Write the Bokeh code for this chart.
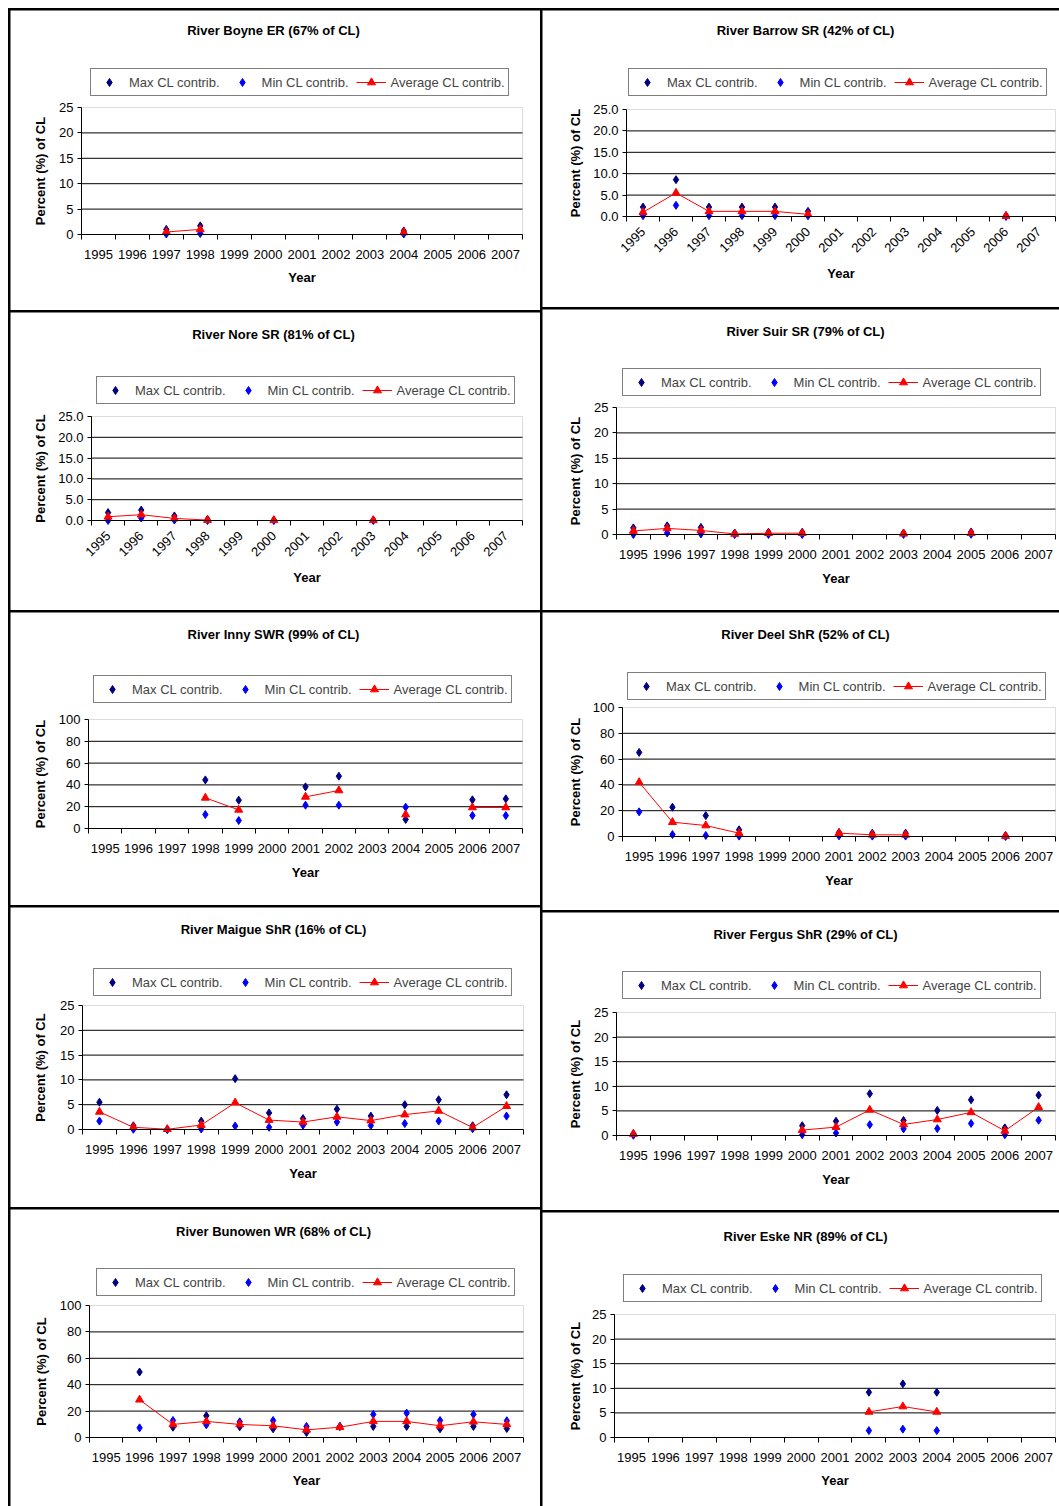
import math
import numpy as np
from bokeh.plotting import figure
from bokeh.layouts import row, column
from bokeh.models import (Range1d, FixedTicker, NumeralTickFormatter, Legend,
                          LegendItem, Label, ColumnDataSource, BoxAnnotation,
                          LinearAxis)
from bokeh.embed import file_html
from bokeh.resources import INLINE

years = list(range(1995, 2008))
year_labels = {y: str(y) for y in years}
N = None

boyne_max = [N, N, 1.0, 1.7, N, N, N, N, N, 0.7, N, N, N]
boyne_min = [N, N, 0.1, 0.2, N, N, N, N, N, 0.1, N, N, N]
boyne_avg = [N, N, 0.5, 1.0, N, N, N, N, N, 0.4, N, N, N]

barrow_max = [2.2, 8.6, 2.2, 2.2, 2.2, 1.2, N, N, N, N, N, 0.2, N]
barrow_min = [0.2, 2.6, 0.2, 0.2, 0.2, 0.15, N, N, N, N, N, 0.0, N]
barrow_avg = [1.0, 5.5, 1.2, 1.2, 1.2, 0.5, N, N, N, N, N, 0.1, N]

nore_max = [1.9, 2.5, 1.1, 0.3, N, 0.1, N, N, 0.1, N, N, N, N]
nore_min = [0.0, 0.6, 0.1, 0.0, N, 0.0, N, N, 0.0, N, N, N, N]
nore_avg = [0.9, 1.4, 0.5, 0.1, N, 0.05, N, N, 0.05, N, N, N, N]

suir_max = [1.3, 1.7, 1.4, 0.3, 0.45, 0.45, N, N, 0.3, N, 0.5, N, N]
suir_min = [0.0, 0.3, 0.1, 0.0, 0.0, 0.0, N, N, 0.0, N, 0.05, N, N]
suir_avg = [0.7, 1.2, 0.8, 0.1, 0.25, 0.25, N, N, 0.15, N, 0.25, N, N]

inny_max = [N, N, N, 44.6, 26.0, N, 38.2, 48.0, N, 8.3, N, 26.3, 27.2]
inny_min = [N, N, N, 12.8, 7.3, N, 21.4, 21.4, N, 19.6, N, 11.9, 11.9]
inny_avg = [N, N, N, 28.1, 17.1, N, 29.0, 34.9, N, 12.8, N, 19.3, 19.3]

deel_max = [65.2, 22.7, 16.2, 5.2, N, N, 3.1, 2.6, 2.6, N, N, 0.8, N]
deel_min = [19.1, 1.5, 0.8, 0.3, N, N, 0.5, 0.3, 0.3, N, N, 0.0, N]
deel_avg = [42.0, 11.1, 8.5, 2.6, N, N, 2.6, 1.3, 1.3, N, N, 0.3, N]

maigue_max = [5.5, 0.75, 0.05, 1.7, 10.25, 3.35, 2.2, 4.1, 2.7, 5.0, 6.0, 0.75, 7.0]
maigue_min = [1.7, 0.05, 0.0, 0.1, 0.7, 0.45, 0.85, 1.5, 0.8, 1.2, 1.7, 0.15, 2.7]
maigue_avg = [3.55, 0.45, 0.05, 0.9, 5.4, 1.9, 1.5, 2.55, 1.8, 3.0, 3.75, 0.4, 4.7]

fergus_max = [0.35, N, N, N, N, 2.0, 2.9, 8.5, 3.05, 5.1, 7.25, 1.55, 8.2]
fergus_min = [0.05, N, N, N, N, 0.15, 0.5, 2.2, 1.35, 1.4, 2.45, 0.15, 3.1]
fergus_avg = [0.3, N, N, N, N, 1.1, 1.7, 5.2, 2.25, 3.25, 4.7, 0.95, 5.75]

bunowen_max = [N, 49.6, 7.8, 16.5, 8.1, 6.6, 3.8, 8.4, 8.4, 8.4, 6.6, 8.4, 6.8]
bunowen_min = [N, 7.3, 12.9, 9.6, 11.9, 12.9, 8.4, 8.4, 17.5, 18.5, 12.9, 17.5, 12.7]
bunowen_avg = [N, 28.6, 9.9, 12.2, 9.9, 8.9, 5.8, 7.8, 12.2, 12.2, 8.9, 11.9, 9.9]

eske_max = [N, N, N, N, N, N, N, 9.2, 10.9, 9.2, N, N, N]
eske_min = [N, N, N, N, N, N, N, 1.4, 1.7, 1.4, N, N, N]
eske_avg = [N, N, N, N, N, N, N, 5.2, 6.3, 5.2, N, N, N]

titles = ["River Boyne ER (67% of CL)", "River Barrow SR (42% of CL)",
          "River Nore SR (81% of CL)", "River Suir SR (79% of CL)",
          "River Inny SWR (99% of CL)", "River Deel ShR (52% of CL)",
          "River Maigue ShR (16% of CL)", "River Fergus ShR (29% of CL)",
          "River Bunowen WR (68% of CL)", "River Eske NR (89% of CL)"]

legend_labels = ["Max CL contrib.", "Min CL contrib.", "Average CL contrib."]
x_title = "Year"
y_title = "Percent (%) of CL"

FONT = "Liberation Sans"
NAVY = "#000080"
BLUE = "#0000FF"
RED = "#FF0000"
LEG_H = 26
X_LO, X_HI = 1994.5, 2007.5


def nanify(v):
    return [np.nan if x is None else x for x in v]


def make_panel(title, vmax, vmin, vavg, ytop, ystep, yfmt, rotated,
               W, H, fl, ft, fr, fb, lx, ly, ty, ylx, yy, tx=263):
    # The frame covers the whole panel; the plot area (X_LO..X_HI, 0..ytop)
    # is mapped onto pixels fl..fr / ft..fb through the ranges.
    sx = (fr - fl) / (X_HI - X_LO)
    sy = (fb - ft) / ytop
    p = figure(width=W, height=H,
               x_range=Range1d(X_LO - fl / sx, X_HI + (W - fr) / sx),
               y_range=Range1d(-(H - fb) / sy, ytop + ft / sy),
               output_backend="svg", toolbar_location=None,
               x_axis_location=None, y_axis_location=None,
               min_border=0, min_border_left=0, min_border_right=0,
               min_border_top=0, min_border_bottom=0)
    p.background_fill_color = "white"
    p.border_fill_color = "white"
    p.outline_line_color = None
    p.grid.visible = False

    yticks = list(range(0, ytop + 1, ystep))
    gl = yticks[1:-1]

    p.add_layout(BoxAnnotation(left=X_LO, right=X_HI, bottom=0, top=ytop,
                               fill_alpha=0, line_color="#909090",
                               line_width=1, level="underlay"))
    p.segment(x0=[X_LO] * len(gl), x1=[X_HI] * len(gl), y0=gl, y1=gl,
              line_color="black", line_width=1)

    bounds = [X_LO + i for i in range(14)]
    xa = LinearAxis(fixed_location=0, bounds=(X_LO, X_HI))
    xa.ticker = FixedTicker(ticks=years, minor_ticks=bounds)
    xa.major_label_overrides = year_labels
    xa.major_tick_out = 0
    xa.major_tick_in = 0
    xa.minor_tick_out = 5
    xa.minor_tick_in = 0
    xa.minor_tick_line_color = "black"
    xa.axis_line_color = "black"
    xa.major_label_text_font = FONT
    xa.major_label_text_font_size = "13px"
    xa.major_label_text_color = "black"
    if rotated:
        xa.major_label_orientation = math.pi / 4
        xa.major_label_standoff = 8
    else:
        xa.major_label_standoff = 10
    p.add_layout(xa, "below")

    ya = LinearAxis(fixed_location=X_LO, bounds=(0, ytop))
    ya.ticker = FixedTicker(ticks=yticks)
    ya.formatter = NumeralTickFormatter(format=yfmt)
    ya.major_tick_out = 4
    ya.major_tick_in = 0
    ya.minor_tick_line_color = None
    ya.axis_line_color = "black"
    ya.major_label_standoff = 4
    ya.major_label_text_font = FONT
    ya.major_label_text_font_size = "13px"
    ya.major_label_text_color = "black"
    p.add_layout(ya, "left")

    src = ColumnDataSource(dict(x=years, ymax=nanify(vmax), ymin=nanify(vmin),
                                yavg=nanify(vavg)))
    r_max = p.scatter("x", "ymax", source=src, marker="diamond", size=8,
                      fill_color=NAVY, line_color=NAVY)
    r_min = p.scatter("x", "ymin", source=src, marker="diamond", size=8,
                      fill_color=BLUE, line_color=BLUE)
    r_line = p.line("x", "yavg", source=src, line_color=RED, line_width=1)
    r_tri = p.scatter("x", "yavg", source=src, marker="triangle", size=8,
                      fill_color=RED, line_color=RED)

    legend = Legend(items=[LegendItem(label=legend_labels[0], renderers=[r_max]),
                           LegendItem(label=legend_labels[1], renderers=[r_min]),
                           LegendItem(label=legend_labels[2], renderers=[r_line, r_tri])],
                    location=(lx, H - ly - LEG_H), orientation="horizontal",
                    glyph_width=30, glyph_height=20, label_standoff=5, spacing=7,
                    padding=3, margin=0, border_line_color="black",
                    border_line_width=1, background_fill_color="white",
                    background_fill_alpha=1, label_text_font=FONT,
                    label_text_font_size="13px", label_height=14)
    p.add_layout(legend)

    txt = dict(x_units="screen", y_units="screen", text_align="center",
               text_baseline="middle", text_font=FONT, text_font_size="13px",
               text_font_style="bold", text_color="black")
    p.add_layout(Label(x=tx, y=H - ty, text=title, **txt))
    p.add_layout(Label(x=(fl + fr) / 2, y=H - yy, text=x_title, **txt))
    p.add_layout(Label(x=ylx, y=H - (ft + fb) / 2, text=y_title,
                       angle=math.pi / 2, **txt))
    return p


LW, RW = 530, 517

p1 = make_panel(titles[0], boyne_max, boyne_min, boyne_avg, 25, 5, "0", False,
                LW, 300, 71, 97, 512, 224, 80, 60, 20, 30, 267)
p2 = make_panel(titles[1], barrow_max, barrow_min, barrow_avg, 25, 5, "0.0", True,
                RW, 297, 84, 99, 513, 206, 86, 60, 20, 33, 263)
p3 = make_panel(titles[2], nore_max, nore_min, nore_avg, 25, 5, "0.0", True,
                LW, 298, 81, 104, 512, 208, 86, 66, 22, 30, 265)
p4 = make_panel(titles[3], suir_max, suir_min, suir_avg, 25, 5, "0", False,
                RW, 301, 74, 98, 513, 225, 80, 61, 22, 33, 269)
p5 = make_panel(titles[4], inny_max, inny_min, inny_avg, 100, 20, "0", False,
                LW, 293, 78, 107, 512, 216, 83, 65, 22, 30, 260)
p6 = make_panel(titles[5], deel_max, deel_min, deel_avg, 100, 20, "0", False,
                RW, 298, 80, 95, 513, 224, 85, 62, 22, 33, 268)
p7 = make_panel(titles[6], maigue_max, maigue_min, maigue_avg, 25, 5, "0", False,
                LW, 300, 72, 98, 513, 222, 83, 63, 22, 30, 266)
p8 = make_panel(titles[7], fergus_max, fergus_min, fergus_avg, 25, 5, "0", False,
                RW, 298, 74, 100, 513, 223, 80, 61, 22, 33, 267)
p9 = make_panel(titles[8], bunowen_max, bunowen_min, bunowen_avg, 100, 20, "0", False,
                LW, 297, 79, 96, 513, 228, 86, 61, 22, 31, 271)
p10 = make_panel(titles[9], eske_max, eske_min, eske_avg, 25, 5, "0", False,
                 RW, 294, 72, 102, 513, 225, 81, 64, 24, 33, 268)

BLK = {"background-color": "black"}
left = column(column(p1), column(p3), column(p5), column(p7), column(p9),
              spacing=2, styles=BLK)
right = column(column(p2), column(p4), column(p6), column(p8), column(p10),
               spacing=2, styles=BLK)
grid = row(left, right, spacing=2,
           styles={"background-color": "black", "padding": "2px 0px 0px 2px"})
page = column(grid, styles={"background-color": "white",
                            "padding": "8px 0px 0px 8px"})

open("out.html", "w").write(file_html(page, INLINE))
